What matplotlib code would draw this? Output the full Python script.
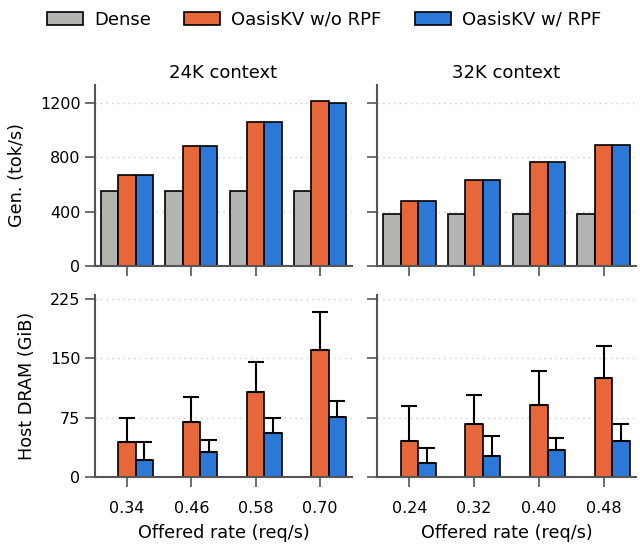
import numpy as np
import matplotlib.pyplot as plt
from matplotlib.patches import Patch

# x tick labels (offered rate, req/s)
rates_24k = ['0.34', '0.46', '0.58', '0.70']
rates_32k = ['0.24', '0.32', '0.40', '0.48']

# generation throughput (tok/s)
gen_dense_24k = [548, 550, 551, 552]
gen_norpf_24k = [671, 884, 1060, 1212]
gen_rpf_24k = [671, 883, 1056, 1200]
gen_dense_32k = [382, 382, 382, 382]
gen_norpf_32k = [480, 630, 767, 887]
gen_rpf_32k = [480, 630, 767, 887]

# host DRAM usage (GiB), mean and upper error
dram_dense_24k = [0, 0, 0, 0]
dram_norpf_24k = [44, 70, 107, 161]
dram_norpf_err_24k = [30, 31, 38, 48]
dram_rpf_24k = [22, 32, 56, 76]
dram_rpf_err_24k = [22, 15, 18, 20]
dram_dense_32k = [0, 0, 0, 0]
dram_norpf_32k = [45, 67, 91, 125]
dram_norpf_err_32k = [45, 36, 43, 41]
dram_rpf_32k = [18, 26, 34, 46]
dram_rpf_err_32k = [19, 26, 15, 21]

labels = ['Dense', 'OasisKV w/o RPF', 'OasisKV w/ RPF']
colors = ['#b3b3af', '#e8673a', '#2b78d6']

plt.rcParams['font.family'] = 'DejaVu Sans'
fig = plt.figure(figsize=(6.4, 5.48), dpi=100)
W, H = 640., 548.

def make_ax(l, r, t, b):
    return fig.add_axes([l / W, 1 - b / H, (r - l) / W, (b - t) / H])

ax_tl = make_ax(95, 352, 85, 266)
ax_tr = make_ax(377, 636, 85, 266)
ax_bl = make_ax(95, 352, 295, 477)
ax_br = make_ax(377, 636, 295, 477)

w = 0.27
x = np.arange(4)

def style(ax, ticks, ylim, show_ylabels):
    for s in ['top', 'right']:
        ax.spines[s].set_visible(False)
    for s in ['left', 'bottom']:
        ax.spines[s].set_color('#555555')
        ax.spines[s].set_linewidth(1.5)
    ax.set_xlim(-0.5, 3.5)
    ax.set_ylim(*ylim)
    ax.set_yticks(ticks)
    if not show_ylabels:
        ax.set_yticklabels([])
    ax.tick_params(axis='both', direction='out', length=7, width=1.2,
                   color='#555555', labelsize=11.5)
    ax.tick_params(axis='x', pad=10)
    for t in ticks[1:]:
        ax.axhline(t, color='#cccccc', lw=1, ls=(0, (1, 3)), zorder=0)

def gen_panel(ax, d, a, b):
    ax.bar(x - w, d, w, color=colors[0], edgecolor='black', lw=1.2, zorder=2)
    ax.bar(x, a, w, color=colors[1], edgecolor='black', lw=1.2, zorder=2)
    ax.bar(x + w, b, w, color=colors[2], edgecolor='black', lw=1.2, zorder=2)

def dram_panel(ax, d, a, ae, b, be):
    ekw = dict(ecolor='black', elinewidth=1.5, capsize=6, capthick=1.5)
    ax.bar(x - w, d, w, color=colors[0], edgecolor='black', lw=1.2, zorder=2)
    ax.bar(x, a, w, color=colors[1], edgecolor='black', lw=1.2, zorder=2,
           yerr=[np.zeros(4), ae], error_kw=ekw)
    ax.bar(x + w, b, w, color=colors[2], edgecolor='black', lw=1.2, zorder=2,
           yerr=[np.zeros(4), be], error_kw=ekw)

gen_panel(ax_tl, gen_dense_24k, gen_norpf_24k, gen_rpf_24k)
gen_panel(ax_tr, gen_dense_32k, gen_norpf_32k, gen_rpf_32k)
dram_panel(ax_bl, dram_dense_24k, dram_norpf_24k, dram_norpf_err_24k,
           dram_rpf_24k, dram_rpf_err_24k)
dram_panel(ax_br, dram_dense_32k, dram_norpf_32k, dram_norpf_err_32k,
           dram_rpf_32k, dram_rpf_err_32k)

style(ax_tl, [0, 400, 800, 1200], (0, 1330), True)
style(ax_tr, [0, 400, 800, 1200], (0, 1330), False)
style(ax_bl, [0, 75, 150, 225], (0, 230), True)
style(ax_br, [0, 75, 150, 225], (0, 230), False)

for ax in [ax_tl, ax_tr]:
    ax.set_xticks(x)
    ax.set_xticklabels([])
ax_bl.set_xticks(x)
ax_bl.set_xticklabels(rates_24k)
ax_br.set_xticks(x)
ax_br.set_xticklabels(rates_32k)

ax_tl.set_title('24K context', fontsize=13, pad=5)
ax_tr.set_title('32K context', fontsize=13, pad=5)
ax_tl.set_ylabel('Gen. (tok/s)', fontsize=12.7, labelpad=10)
ax_bl.set_ylabel('Host DRAM (GiB)', fontsize=12.7, labelpad=10)
ax_bl.set_xlabel('Offered rate (req/s)', fontsize=12.7, labelpad=6)
ax_br.set_xlabel('Offered rate (req/s)', fontsize=12.7, labelpad=6)

handles = [Patch(facecolor=c, edgecolor='black', lw=1.2) for c in colors]
fig.legend(handles, labels, loc='center', bbox_to_anchor=(324 / W, 1 - 20 / H),
           ncol=3, frameon=False, fontsize=13, handlelength=2.0,
           handleheight=0.75, columnspacing=1.85, handletextpad=0.6)

fig.savefig('out.png', dpi=100)
